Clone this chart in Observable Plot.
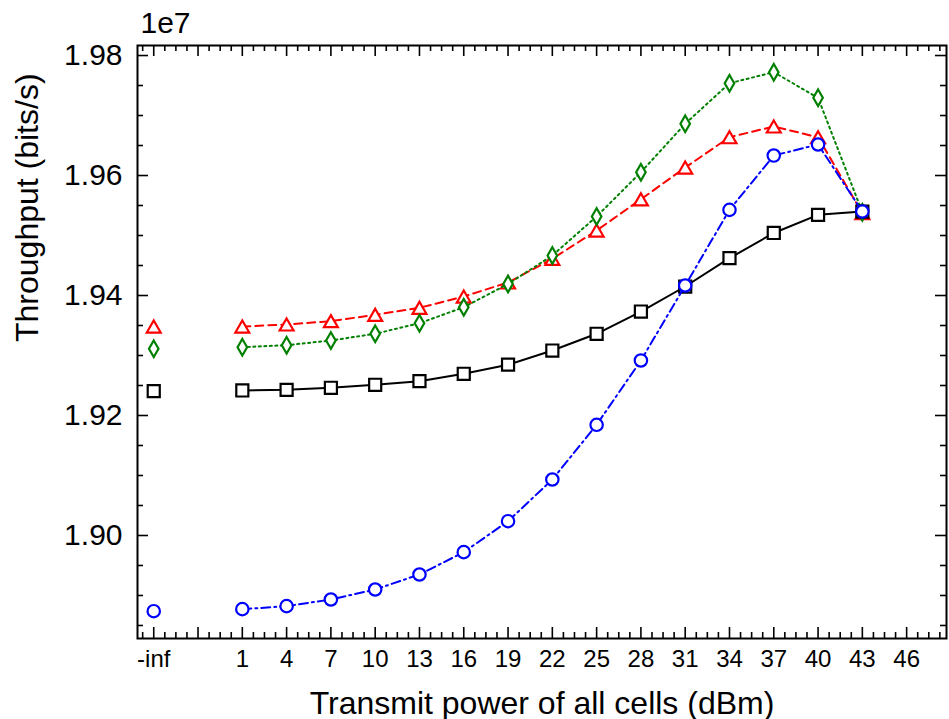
<!DOCTYPE html>
<html>
<head>
<meta charset="utf-8">
<script src="https://cdn.jsdelivr.net/npm/d3@7"></script>
<script src="https://cdn.jsdelivr.net/npm/@observablehq/plot@0.6"></script>
<style>
  html, body { margin: 0; padding: 0; background: #fff; }
  #chart { width: 949px; height: 719px; }
</style>
</head>
<body>
<div id="chart"></div>
<script>
// ---- data (throughput in bits/s) ----
const powerPos = [-5, 1, 4, 7, 10, 13, 16, 19, 22, 25, 28, 31, 34, 37, 40, 43]; // -5 stands for "-inf"
const tickPos = [-5, 1, 4, 7, 10, 13, 16, 19, 22, 25, 28, 31, 34, 37, 40, 43, 46];
const tickLabels = ["-inf", "1", "4", "7", "10", "13", "16", "19", "22", "25", "28", "31", "34", "37", "40", "43", "46"];
const yTickValues = [1.90e7, 1.92e7, 1.94e7, 1.96e7, 1.98e7];

const blackSquare = [1.92405, 1.92417, 1.92428, 1.92462, 1.92512, 1.92572, 1.92695, 1.92847, 1.93083, 1.93362, 1.93733, 1.94150, 1.94622, 1.95042, 1.95345, 1.95400];
const redTriangle = [1.93483, 1.93483, 1.93517, 1.93572, 1.93678, 1.93795, 1.93983, 1.94217, 1.94612, 1.95083, 1.95603, 1.96133, 1.96638, 1.96817, 1.96638, 1.95372];
const greenDiamond = [1.93112, 1.93138, 1.93172, 1.93250, 1.93362, 1.93538, 1.93805, 1.94192, 1.94667, 1.95317, 1.96055, 1.96862, 1.97538, 1.97722, 1.97295, 1.95388];
const blueCircle = [1.88738, 1.88772, 1.88822, 1.88933, 1.89100, 1.89350, 1.89722, 1.90238, 1.90933, 1.91845, 1.92917, 1.94167, 1.95428, 1.96333, 1.96517, 1.95400];

const toRows = (vals) => vals.map((v, i) => ({x: powerPos[i], y: v * 1e7, inf: i === 0}));

// ---- layout ----
const W = 949, H = 719;
const mL = 137, mR = 3, mT = 45, mB = 81;
const FW = W - mL - mR, FH = H - mT - mB;
const majorLen = 11, minorLen = 6;

const majorX = d3.range(-5, 47, 3);
const minorX = d3.range(-5.75, 48.5, 0.75).filter(v => Math.abs(((v + 5) / 3) - Math.round((v + 5) / 3)) > 1e-6);
const majorY = d3.range(1.90, 1.981, 0.02).map(v => Math.round(v * 1000) / 1000 * 1e7);
const minorY = d3.range(1.885, 1.98, 0.005).map(v => Math.round(v * 1000) / 1000 * 1e7)
  .filter(v => !majorY.some(m => Math.abs(m - v) < 1));

// triangle centered on its bounding box (as in the reference)
const triUp = {
  draw(ctx, size) {
    const r = Math.sqrt(size / Math.PI);
    const w = 2.4 * r, h = 0.866 * w;
    ctx.moveTo(0, -h / 2);
    ctx.lineTo(w / 2, h / 2);
    ctx.lineTo(-w / 2, h / 2);
    ctx.closePath();
  }
};

const series = [
  {vals: redTriangle, color: "#ff0000", dash: "8,5", symbol: triUp, r: 5.8},
  {vals: greenDiamond, color: "#008000", dash: "2,3.5", symbol: "diamond", r: 5.0},
  {vals: blackSquare, color: "#000000", dash: null, symbol: "square", r: 6.8},
  {vals: blueCircle, color: "#0000ff", dash: "9,4,2,4", symbol: "circle", r: 6.2}
];

const seriesMarks = series.flatMap(s => {
  const rows = toRows(s.vals);
  return [
    Plot.line(rows.filter(d => !d.inf), {x: "x", y: "y", stroke: s.color, strokeWidth: 2, strokeDasharray: s.dash}),
    Plot.dot(rows, {x: "x", y: "y", symbol: () => s.symbol, r: s.r, stroke: s.color, fill: "white", strokeWidth: 2.2})
  ];
});

const tickStyle = {stroke: "black", strokeWidth: 1.6};

const chart = Plot.plot({
  width: W, height: H,
  marginLeft: mL, marginRight: mR, marginTop: mT, marginBottom: mB,
  style: {fontFamily: "'Liberation Sans', Arial, Helvetica, sans-serif", background: "white", color: "black", overflow: "visible"},
  x: {type: "linear", domain: [-6.1, 48.7], axis: null},
  y: {type: "linear", domain: [1.88283e7, 1.98167e7], axis: null},
  symbol: {type: "identity"},
  marks: [
    // ticks, inward on all four sides
    Plot.ruleX(majorX, {x: d => d, insetTop: FH - majorLen, ...tickStyle}),
    Plot.ruleX(minorX, {x: d => d, insetTop: FH - minorLen, ...tickStyle}),
    Plot.ruleX(majorX, {x: d => d, insetBottom: FH - majorLen, ...tickStyle}),
    Plot.ruleX(minorX, {x: d => d, insetBottom: FH - minorLen, ...tickStyle}),
    Plot.ruleY(majorY, {y: d => d, insetRight: FW - majorLen, ...tickStyle}),
    Plot.ruleY(minorY, {y: d => d, insetRight: FW - minorLen, ...tickStyle}),
    Plot.ruleY(majorY, {y: d => d, insetLeft: FW - majorLen, ...tickStyle}),
    Plot.ruleY(minorY, {y: d => d, insetLeft: FW - minorLen, ...tickStyle}),
    // tick labels
    Plot.axisX(tickPos, {anchor: "bottom", tickSize: 0, tickPadding: 11, fontSize: 24, label: null,
      tickFormat: d => tickLabels[tickPos.indexOf(d)]}),
    Plot.axisY(yTickValues, {anchor: "left", tickSize: 0, tickPadding: 15, fontSize: 30, label: null,
      tickFormat: d => (d / 1e7).toFixed(2)}),
    // axis titles and offset label
    Plot.text(["Transmit power of all cells (dBm)"], {frameAnchor: "bottom", dy: 65, fontSize: 32, lineAnchor: "middle", fill: "black"}),
    Plot.text(["Throughput (bits/s)"], {frameAnchor: "left", dx: -110, rotate: -90, fontSize: 32, lineAnchor: "middle", fill: "black"}),
    Plot.text(["1e7"], {frameAnchor: "top-left", dx: 3, dy: -22, textAnchor: "start", fontSize: 30, lineAnchor: "middle", fill: "black"}),
    // data
    ...seriesMarks,
    Plot.frame({stroke: "black", strokeWidth: 2})
  ]
});

document.getElementById("chart").appendChild(chart);
</script>
</body>
</html>
